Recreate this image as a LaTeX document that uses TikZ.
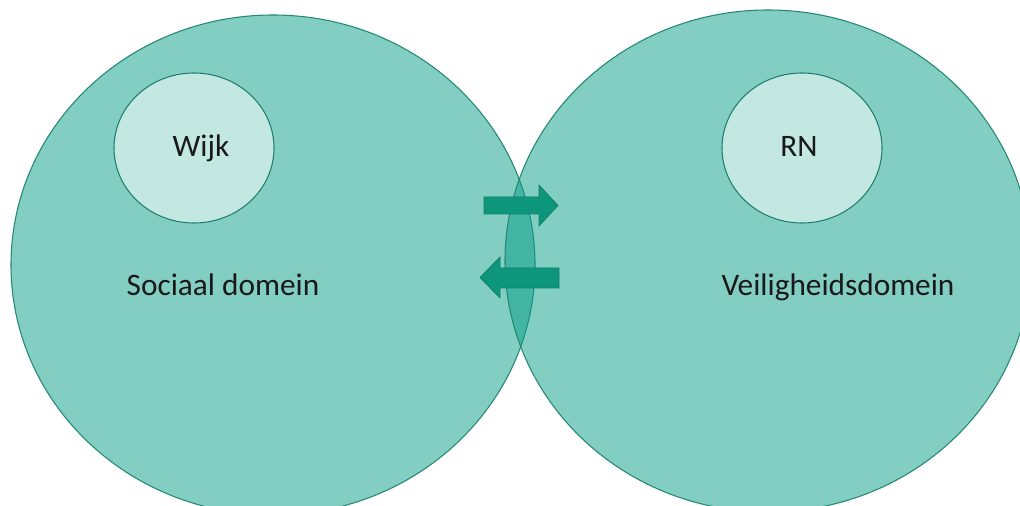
\documentclass[tikz,border=0pt]{standalone}
\usepackage{fontspec}
\setmainfont{Carlito}
\usetikzlibrary{shapes.geometric}

\definecolor{domfill}{RGB}{7,157,133}
\definecolor{domline}{RGB}{35,135,115}
\definecolor{kringfill}{RGB}{195,232,226}
\definecolor{kringline}{RGB}{30,125,108}
\definecolor{pijlfill}{RGB}{14,150,124}

\begin{document}
\begin{tikzpicture}[x=0.2mm,y=-0.2mm,
  domein/.style={ellipse,inner sep=0pt,fill=domfill,fill opacity=0.5,draw=domline,line width=0.6pt},
  kring/.style={ellipse,inner sep=0pt,fill=kringfill,draw=kringline,line width=0.6pt,
    minimum width=32mm,minimum height=30mm},
  lbl/.style={anchor=base,inner sep=0pt,font=\fontsize{17.8}{21}\selectfont,text=black!90},
  pijl/.style={fill=pijlfill,draw=pijlfill!85!black,line width=0.4pt}]
\useasboundingbox (0,0) rectangle (1020,506);
\clip (0,0) rectangle (1020,506);

% the two domains
\node[domein,minimum width=104.8mm,minimum height=100mm] (sociaal) at (273,265) {};
\node[domein,minimum width=105.2mm,minimum height=100.4mm] (veilig) at (768,261) {};

% inner circles
\foreach \n/\x/\tx/\t in {wijk/194/201/Wijk, rn/802/799/RN}{
  \node[kring] (\n) at (\x,148) {};
  \node[lbl] (\n-txt) at (\tx,157) {\t};
}

\node[lbl] (sociaal-txt) at (223,295) {Sociaal domein};
\node[lbl] (veilig-txt) at (838,295) {Veiligheidsdomein};

% exchange arrows
\draw[pijl] (484,197) -- (539,197) -- (539,185) -- (558,205.5) -- (539,226) -- (539,214) -- (484,214) -- cycle;
\draw[pijl] (559,268) -- (500,268) -- (500,257) -- (480,277.5) -- (500,298) -- (500,288) -- (559,288) -- cycle;
\end{tikzpicture}
\end{document}
